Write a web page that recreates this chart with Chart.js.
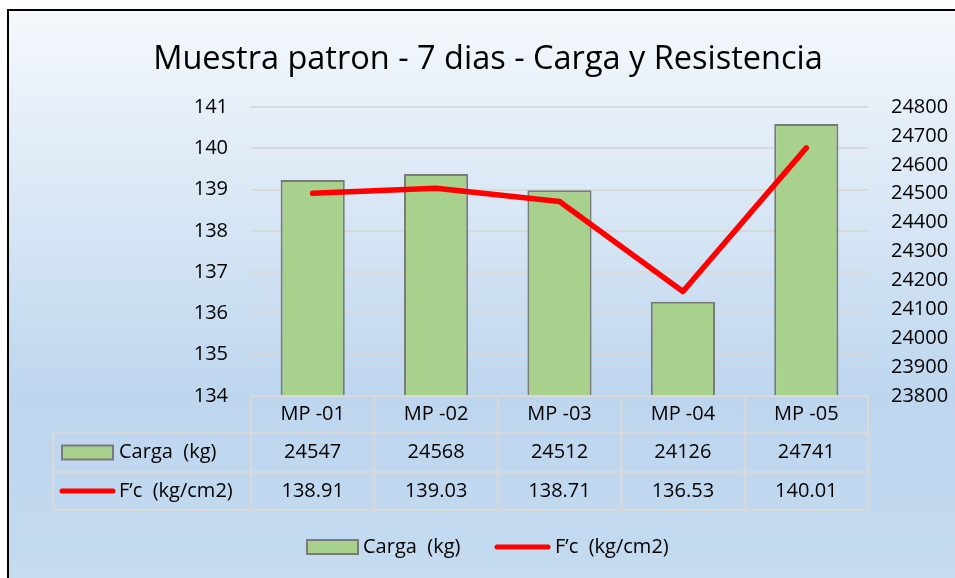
<!DOCTYPE html>
<html>
<head>
<meta charset="utf-8">
<script src="https://cdn.jsdelivr.net/npm/chart.js@4/dist/chart.umd.min.js"></script>
<style>
  html, body { margin: 0; padding: 0; background: #ffffff; }
  #wrap { width: 955px; height: 578px; position: relative; }
  canvas { display: block; }
</style>
</head>
<body>
<div id="wrap"><canvas id="c" width="955" height="578"></canvas></div>
<script>
// ---- Data ----
const categories = ['MP -01', 'MP -02', 'MP -03', 'MP -04', 'MP -05'];
const cargaKg = [24547, 24568, 24512, 24126, 24741];
const fcKgCm2 = [138.91, 139.03, 138.71, 136.53, 140.01];
const seriesNames = ['Carga  (kg)', 'F\u2019c  (kg/cm2)'];
const titleText = 'Muestra patron - 7 dias - Carga y Resistencia';
const leftAxisRange = [134, 141];
const leftAxisStep = 1;
const rightAxisRange = [23800, 24800];
const rightAxisStep = 100;

// ---- Styles ----
const FONT = "'Open Sans', 'Liberation Sans', sans-serif";
const BAR_FILL = '#a9d18e';
const BAR_BORDER = '#7a7a7a';
const LINE_COLOR = '#ff0000';
const GRID = '#d9d9d9';

const TABLE_ROWS = [37, 76, 114]; // offsets below chart area bottom
const TABLE_LEFT = 53;

const framePlugin = {
  id: 'frame',
  beforeDraw(chart) {
    const ctx = chart.ctx;
    ctx.save();
    ctx.fillStyle = '#ffffff';
    ctx.fillRect(0, 0, chart.width, chart.height);
    const g = ctx.createLinearGradient(0, 11, 0, 578);
    g.addColorStop(0, '#f5f8fc');
    g.addColorStop(0.68, '#bdd6ee');
    g.addColorStop(1, '#c4dbf0');
    ctx.fillStyle = g;
    ctx.fillRect(9, 11, chart.width - 9, chart.height - 11);
    ctx.fillStyle = '#000000';
    ctx.fillRect(7, 9, chart.width - 7, 2);
    ctx.fillRect(7, 9, 2, chart.height - 9);
    ctx.restore();
  },
  afterDraw(chart) {
    const ctx = chart.ctx;
    const area = chart.chartArea;
    const x = chart.scales.x;
    const n = categories.length;
    const colW = (area.right - area.left) / n;
    const top = area.bottom;
    const r1 = top + TABLE_ROWS[0];
    const r2 = top + TABLE_ROWS[1];
    const r3 = top + TABLE_ROWS[2];
    ctx.save();
    ctx.strokeStyle = GRID;
    ctx.lineWidth = 2;
    ctx.beginPath();
    ctx.moveTo(area.left, top); ctx.lineTo(area.right, top);
    ctx.moveTo(TABLE_LEFT, r1); ctx.lineTo(area.right, r1);
    ctx.moveTo(TABLE_LEFT, r2); ctx.lineTo(area.right, r2);
    ctx.moveTo(TABLE_LEFT, r3); ctx.lineTo(area.right, r3);
    for (let i = 0; i <= n; i++) {
      const xx = area.left + i * colW;
      ctx.moveTo(xx, top); ctx.lineTo(xx, r3);
    }
    ctx.moveTo(TABLE_LEFT, r1); ctx.lineTo(TABLE_LEFT, r3);
    ctx.stroke();

    ctx.fillStyle = '#000000';
    ctx.font = '20px ' + FONT;
    ctx.textAlign = 'center';
    ctx.textBaseline = 'middle';
    const y1 = (r1 + r2) / 2;
    const y2 = (r2 + r3) / 2;
    for (let i = 0; i < n; i++) {
      const cx = x.getPixelForValue(i);
      ctx.fillText(String(cargaKg[i]), cx, y1);
      ctx.fillText(fcKgCm2[i].toFixed(2), cx, y2);
    }

    const ds = chart.data.datasets;
    ctx.textAlign = 'left';
    ctx.fillStyle = ds[0].backgroundColor;
    ctx.fillRect(62, y1 - 7, 51, 14);
    ctx.strokeStyle = ds[0].borderColor;
    ctx.lineWidth = 2;
    ctx.strokeRect(62, y1 - 7, 51, 14);
    ctx.fillStyle = '#000000';
    ctx.fillText(ds[0].label, 119, y1);
    ctx.strokeStyle = ds[1].borderColor;
    ctx.lineWidth = 5;
    ctx.lineCap = 'round';
    ctx.beginPath();
    ctx.moveTo(62, y2); ctx.lineTo(113, y2);
    ctx.stroke();
    ctx.fillText(ds[1].label, 119, y2);

    const ly = 547;
    ctx.fillStyle = ds[0].backgroundColor;
    ctx.fillRect(307, ly - 7, 51, 14);
    ctx.strokeStyle = ds[0].borderColor;
    ctx.lineWidth = 2;
    ctx.lineCap = 'butt';
    ctx.strokeRect(307, ly - 7, 51, 14);
    ctx.fillStyle = '#000000';
    ctx.fillText(ds[0].label, 363, ly);
    ctx.strokeStyle = ds[1].borderColor;
    ctx.lineWidth = 5;
    ctx.lineCap = 'round';
    ctx.beginPath();
    ctx.moveTo(497, ly); ctx.lineTo(548, ly);
    ctx.stroke();
    ctx.fillText(ds[1].label, 555, ly);
    ctx.restore();
  }
};

new Chart(document.getElementById('c'), {
  data: {
    labels: categories,
    datasets: [
      {
        type: 'bar',
        label: seriesNames[0],
        data: cargaKg,
        yAxisID: 'yR',
        backgroundColor: BAR_FILL,
        borderColor: BAR_BORDER,
        borderWidth: 2,
        barPercentage: 0.52,
        categoryPercentage: 1,
        order: 2
      },
      {
        type: 'line',
        label: seriesNames[1],
        data: fcKgCm2,
        yAxisID: 'yL',
        borderColor: LINE_COLOR,
        backgroundColor: LINE_COLOR,
        borderWidth: 5.5,
        borderCapStyle: 'round',
        borderJoinStyle: 'round',
        pointRadius: 0,
        tension: 0,
        order: 1
      }
    ]
  },
  options: {
    responsive: false,
    animation: false,
    events: [],
    layout: { padding: { top: 10, left: 21, right: 0, bottom: 68 } },
    plugins: {
      legend: { display: false },
      tooltip: { enabled: false },
      title: {
        display: true,
        text: titleText,
        color: '#000000',
        font: { family: FONT, size: 32.5, weight: 'normal', lineHeight: 1.2 },
        padding: { top: 30, bottom: 28 }
      }
    },
    scales: {
      x: {
        type: 'category',
        grid: { display: false, drawTicks: false },
        border: { display: false },
        ticks: { color: '#000000', font: { family: FONT, size: 20 }, padding: 6, maxRotation: 0 },
        afterFit(axis) { axis.height = 114; }
      },
      yL: {
        type: 'linear',
        position: 'left',
        min: leftAxisRange[0],
        max: leftAxisRange[1],
        ticks: { stepSize: leftAxisStep, color: '#000000', font: { family: FONT, size: 20 }, padding: 23 },
        grid: { color: GRID, lineWidth: 2, drawTicks: false },
        border: { display: false },
        afterFit(axis) { axis.width = 230; }
      },
      yR: {
        type: 'linear',
        position: 'right',
        min: rightAxisRange[0],
        max: rightAxisRange[1],
        ticks: {
          stepSize: rightAxisStep, color: '#000000', font: { family: FONT, size: 20 }, padding: 23,
          callback: (v) => String(v)
        },
        grid: { display: false, drawTicks: false },
        border: { display: false },
        afterFit(axis) { axis.width = 87; }
      }
    }
  },
  plugins: [framePlugin]
});
</script>
</body>
</html>
